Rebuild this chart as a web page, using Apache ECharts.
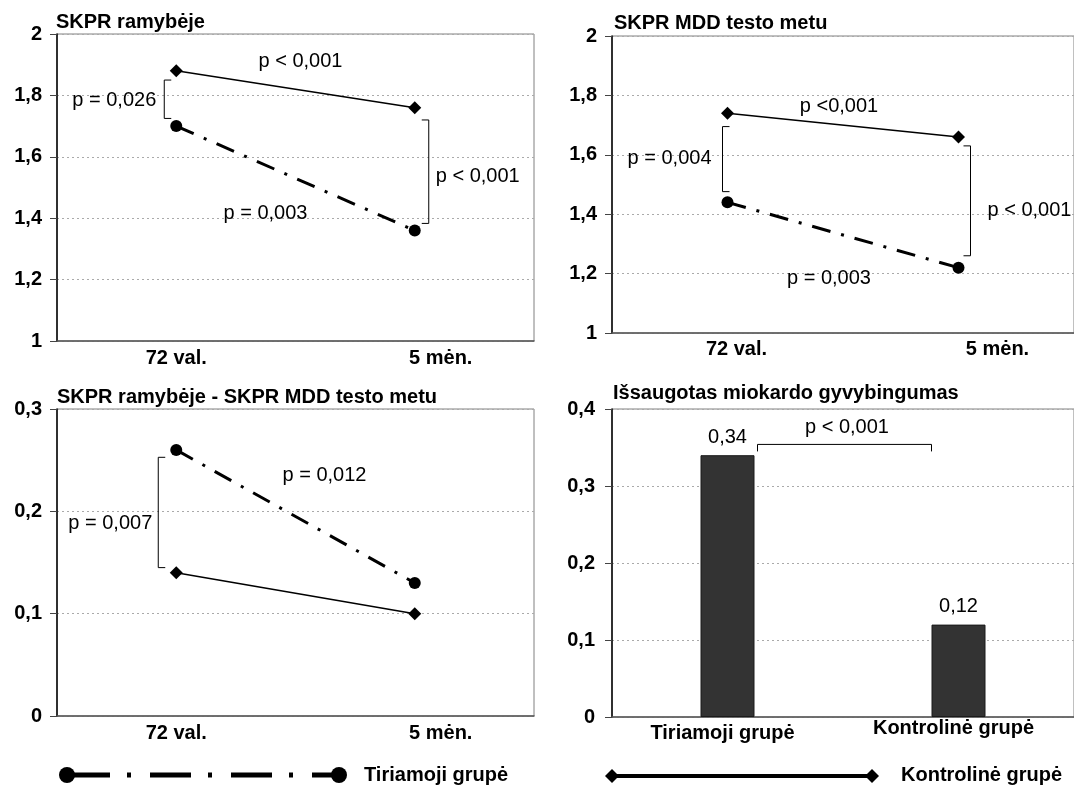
<!DOCTYPE html>
<html>
<head>
<meta charset="utf-8">
<title>SKPR</title>
<script src="https://cdn.jsdelivr.net/npm/echarts@6/dist/echarts.min.js"></script>
<style>
  html, body { margin: 0; padding: 0; background: #fff; }
  #chart { width: 1074px; height: 785px; }
</style>
</head>
<body>
<div id="chart"></div>
<script>
// duomenys
const periods = ['72 val.', '5 mėn.']
const restStudy = [1.70, 1.36]
const restControl = [1.88, 1.76]
const stressStudy = [1.44, 1.22]
const stressControl = [1.74, 1.66]
const diffStudy = [0.26, 0.13]
const diffControl = [0.14, 0.10]
const groups = ['Tiriamoji grupė', 'Kontrolinė grupė']
const viability = [0.34, 0.12]
const titles = ['SKPR ramybėje', 'SKPR MDD testo metu', 'SKPR ramybėje - SKPR MDD testo metu', 'Išsaugotas miokardo gyvybingumas']
const pRest = ['p = 0,026', 'p < 0,001', 'p < 0,001', 'p = 0,003']
const pStress = ['p = 0,004', 'p <0,001', 'p < 0,001', 'p = 0,003']
const pDiff = ['p = 0,007', 'p = 0,012']
const pViability = ['p < 0,001']

const FONT = '"Liberation Sans", Arial, sans-serif'
const chart = echarts.init(document.getElementById('chart'))

const grids = [
  { left: 57, top: 34, width: 477, height: 307 },
  { left: 612, top: 36, width: 477, height: 297 },
  { left: 57, top: 409, width: 477, height: 307 },
  { left: 612, top: 409, width: 477, height: 308 }
]

const fmt = v => String(+v.toFixed(2)).replace('.', ',')
const bold = { fontFamily: FONT, fontSize: 20, fontWeight: 'bold', color: '#000' }

const yAxis = (gridIndex, min, max, interval) => ({
  type: 'value',
  gridIndex,
  min,
  max,
  interval,
  axisLine: { show: true, lineStyle: { color: '#000', width: 1.5 } },
  axisTick: { show: true, length: 7, lineStyle: { color: '#444' } },
  axisLabel: { ...bold, margin: 15, formatter: fmt },
  splitLine: { show: true, lineStyle: { color: '#aaa', width: 1, type: [2, 3] } }
})

const xAxis = (gridIndex, data, rich, formatter, margin) => ({
  type: 'category',
  gridIndex,
  data,
  axisLine: { show: true, lineStyle: { color: '#555', width: 1.5 } },
  axisTick: { show: false },
  axisLabel: { ...bold, margin, interval: 0, hideOverlap: false, formatter, rich }
})

const studyLine = (name, data, idx) => ({
  name,
  type: 'line',
  xAxisIndex: idx,
  yAxisIndex: idx,
  data,
  symbol: 'circle',
  symbolSize: 12,
  itemStyle: { color: '#000' },
  lineStyle: { color: '#000', width: 3, type: [19, 11, 3, 11], cap: 'butt' },
  z: 3
})

const controlLine = (name, data, idx) => ({
  name,
  type: 'line',
  xAxisIndex: idx,
  yAxisIndex: idx,
  data,
  symbol: 'diamond',
  symbolSize: 13,
  itemStyle: { color: '#000' },
  lineStyle: { color: '#000', width: 1.5 },
  z: 3
})

const shiftRich = pad => ({ ...bold, padding: pad })

const option = {
  backgroundColor: '#fff',
  animation: false,
  title: [
    { text: titles[0], left: 56, top: 12 },
    { text: titles[1], left: 614, top: 13 },
    { text: titles[2], left: 57, top: 387 },
    { text: titles[3], left: 613, top: 383 }
  ].map(t => ({ ...t, padding: 0, textStyle: { ...bold } })),
  grid: grids.map(g => ({ ...g, show: true, borderColor: '#808080', borderWidth: 1, backgroundColor: '#fff' })),
  xAxis: [
    xAxis(0, periods, { b: shiftRich([0, 0, 0, 52]) }, (v, i) => i === 1 ? '{b|' + v + '}' : v, 7),
    xAxis(1, periods, { a: shiftRich([0, 0, 0, 18]), b: shiftRich([0, 0, 0, 78]) }, (v, i) => i === 1 ? '{b|' + v + '}' : '{a|' + v + '}', 6),
    xAxis(2, periods, { b: shiftRich([0, 0, 0, 52]) }, (v, i) => i === 1 ? '{b|' + v + '}' : v, 7),
    xAxis(3, groups, { a: shiftRich([5, 10, 0, 0]), b: shiftRich([0, 10, 0, 0]) }, (v, i) => i === 1 ? '{b|' + v + '}' : '{a|' + v + '}', 1)
  ],
  yAxis: [
    yAxis(0, 1, 2, 0.2),
    yAxis(1, 1, 2, 0.2),
    yAxis(2, 0, 0.3, 0.1),
    { ...yAxis(3, 0, 0.4, 0.1), axisLabel: { ...bold, margin: 17, formatter: fmt } }
  ],
  series: [
    studyLine(groups[0], restStudy, 0),
    controlLine(groups[1], restControl, 0),
    studyLine(groups[0], stressStudy, 1),
    controlLine(groups[1], stressControl, 1),
    studyLine(groups[0], diffStudy, 2),
    controlLine(groups[1], diffControl, 2),
    {
      name: 'Išsaugotas miokardo gyvybingumas',
      type: 'bar',
      xAxisIndex: 3,
      yAxisIndex: 3,
      data: viability,
      barWidth: 54,
      itemStyle: { color: '#333333', borderColor: '#1a1a1a', borderWidth: 1 },
      label: {
        show: true,
        position: 'top',
        distance: 8,
        fontFamily: FONT,
        fontSize: 20,
        color: '#000',
        formatter: p => fmt(p.value)
      }
    }
  ]
}

chart.setOption(option)

// anotacijos: skliaustai ir p reikšmės
const pt = (g, i, v) => chart.convertToPixel({ gridIndex: g }, [i, v])
const mid = (g, v) => (pt(g, 0, v)[0] + pt(g, 1, v)[0]) / 2
const lineStyle = { stroke: '#000', lineWidth: 1, fill: null }

const bracketV = (x, y1, y2, dir) => ({
  type: 'polyline',
  shape: { points: [[x + dir * 7, y1], [x, y1], [x, y2], [x + dir * 7, y2]] },
  style: lineStyle,
  z: 10
})

const label = (x, y, text, align) => ({
  type: 'text',
  x,
  y,
  style: { text, fontFamily: FONT, fontSize: 20, fill: '#000', align, verticalAlign: 'middle' },
  z: 10
})

const graphics = []

// 1 skydelis
{
  const top = pt(0, 0, 1.85), bot = pt(0, 0, 1.725)
  const bx = top[0] - 12
  graphics.push(bracketV(bx, top[1], bot[1], 1))
  graphics.push(label(bx - 8, pt(0, 0, 1.785)[1], pRest[0], 'right'))
  graphics.push(label(mid(0, 1) + 5, pt(0, 0, 1.91)[1], pRest[1], 'center'))
  const rt = pt(0, 1, 1.72), rb = pt(0, 1, 1.383)
  const rx = rt[0] + 14
  graphics.push(bracketV(rx, rt[1], rb[1], -1))
  graphics.push(label(rx + 7, pt(0, 1, 1.535)[1], pRest[2], 'left'))
  graphics.push(label(mid(0, 1) - 30, pt(0, 0, 1.416)[1], pRest[3], 'center'))
}

// 2 skydelis
{
  const top = pt(1, 0, 1.695), bot = pt(1, 0, 1.476)
  const bx = top[0] - 5
  graphics.push(bracketV(bx, top[1], bot[1], 1))
  graphics.push(label(bx - 11, pt(1, 0, 1.588)[1], pStress[0], 'right'))
  graphics.push(label(mid(1, 1) - 4, pt(1, 0, 1.764)[1], pStress[1], 'center'))
  const rt = pt(1, 1, 1.63), rb = pt(1, 1, 1.26)
  const rx = rt[0] + 12
  graphics.push(bracketV(rx, rt[1], rb[1], -1))
  graphics.push(label(rx + 17, pt(1, 1, 1.414)[1], pStress[2], 'left'))
  graphics.push(label(mid(1, 1) - 14, pt(1, 0, 1.184)[1], pStress[3], 'center'))
}

// 3 skydelis
{
  const top = pt(2, 0, 0.2528), bot = pt(2, 0, 0.145)
  const bx = top[0] - 18
  graphics.push(bracketV(bx, top[1], bot[1], 1))
  graphics.push(label(bx - 6, pt(2, 0, 0.188)[1], pDiff[0], 'right'))
  graphics.push(label(mid(2, 0.2) + 29, pt(2, 0, 0.2355)[1], pDiff[1], 'center'))
}

// 4 skydelis
{
  const a = pt(3, 0, 0.354), b = pt(3, 1, 0.354)
  const x1 = a[0] + 30, x2 = b[0] - 27, y = a[1]
  graphics.push({
    type: 'polyline',
    shape: { points: [[x1, y + 7], [x1, y], [x2, y], [x2, y + 7]] },
    style: lineStyle,
    z: 10
  })
  graphics.push(label(mid(3, 0.3) + 4, pt(3, 0, 0.3757)[1], pViability[0], 'center'))
}

// legenda apačioje
const legendY = 775
graphics.push({
  type: 'line',
  shape: { x1: 67, y1: legendY, x2: 339, y2: legendY },
  style: { stroke: '#000', lineWidth: 5, lineDash: [41, 17, 4, 19], lineDashOffset: -2, lineCap: 'butt' }
})
graphics.push({ type: 'circle', shape: { cx: 67, cy: legendY, r: 8 }, style: { fill: '#000' } })
graphics.push({ type: 'circle', shape: { cx: 339, cy: legendY, r: 8 }, style: { fill: '#000' } })
graphics.push({
  type: 'text', x: 364, y: legendY,
  style: { text: groups[0], fontFamily: FONT, fontSize: 20, fontWeight: 'bold', fill: '#000', verticalAlign: 'middle' }
})
graphics.push({
  type: 'line',
  shape: { x1: 612, y1: legendY + 1, x2: 872, y2: legendY + 1 },
  style: { stroke: '#000', lineWidth: 4 }
})
;[612, 872].forEach(cx => {
  graphics.push({
    type: 'polygon',
    shape: { points: [[cx - 7, legendY + 1], [cx, legendY - 6], [cx + 7, legendY + 1], [cx, legendY + 8]] },
    style: { fill: '#000' }
  })
})
graphics.push({
  type: 'text', x: 901, y: legendY,
  style: { text: groups[1], fontFamily: FONT, fontSize: 20, fontWeight: 'bold', fill: '#000', verticalAlign: 'middle' }
})

chart.setOption({ graphic: graphics })
</script>
</body>
</html>
